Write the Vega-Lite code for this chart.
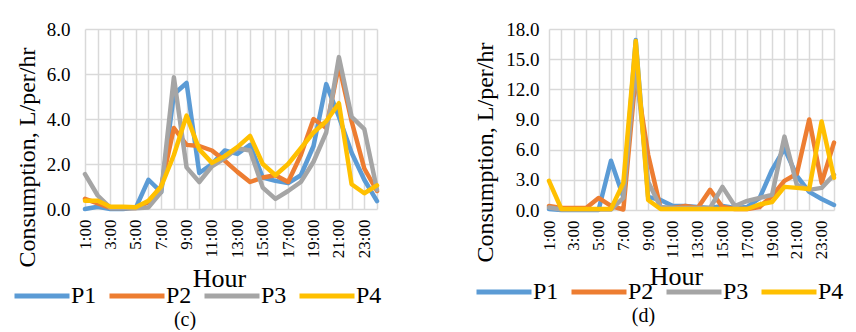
{
  "$schema": "https://vega.github.io/schema/vega-lite/v6.json",
  "padding": {"left": 8, "top": 20, "right": 0, "bottom": 0},
  "background": "white",
  "config": {
    "font": "Liberation Serif",
    "view": {"stroke": null},
    "axis": {"labelFont": "Liberation Serif", "titleFont": "Liberation Serif", "labelColor": "#000000", "titleColor": "#000000", "gridColor": "#d9d9d9", "gridWidth": 1.5, "ticks": false, "domain": false, "titleFontWeight": "normal"},
    "legend": {"labelFont": "Liberation Serif", "labelColor": "#000000"},
    "title": {"font": "Liberation Serif", "color": "#000000", "fontWeight": "normal"}
  },
  "datasets": {
    "c": [
      {"Hour": "1:00", "P1": 0.0, "P2": 0.45, "P3": 1.55, "P4": 0.37},
      {"Hour": "2:00", "P1": 0.1, "P2": 0.25, "P3": 0.6, "P4": 0.37},
      {"Hour": "3:00", "P1": 0.0, "P2": 0.05, "P3": 0.05, "P4": 0.1},
      {"Hour": "4:00", "P1": 0.0, "P2": 0.05, "P3": 0.05, "P4": 0.1},
      {"Hour": "5:00", "P1": 0.05, "P2": 0.05, "P3": 0.03, "P4": 0.08},
      {"Hour": "6:00", "P1": 1.3, "P2": 0.3, "P3": 0.07, "P4": 0.37},
      {"Hour": "7:00", "P1": 0.75, "P2": 1.0, "P3": 0.75, "P4": 1.0},
      {"Hour": "8:00", "P1": 5.1, "P2": 3.6, "P3": 5.85, "P4": 2.4},
      {"Hour": "9:00", "P1": 5.6, "P2": 2.85, "P3": 1.85, "P4": 4.15},
      {"Hour": "10:00", "P1": 1.6, "P2": 2.8, "P3": 1.2, "P4": 2.65},
      {"Hour": "11:00", "P1": 2.0, "P2": 2.6, "P3": 1.9, "P4": 2.05},
      {"Hour": "12:00", "P1": 2.6, "P2": 2.15, "P3": 2.25, "P4": 2.35},
      {"Hour": "13:00", "P1": 2.45, "P2": 1.65, "P3": 2.7, "P4": 2.75},
      {"Hour": "14:00", "P1": 2.85, "P2": 1.2, "P3": 2.6, "P4": 3.25},
      {"Hour": "15:00", "P1": 1.4, "P2": 1.4, "P3": 0.95, "P4": 2.0},
      {"Hour": "16:00", "P1": 1.25, "P2": 1.5, "P3": 0.45, "P4": 1.5},
      {"Hour": "17:00", "P1": 1.15, "P2": 1.2, "P3": 0.8, "P4": 2.0},
      {"Hour": "18:00", "P1": 1.5, "P2": 2.4, "P3": 1.2, "P4": 2.7},
      {"Hour": "19:00", "P1": 2.8, "P2": 4.0, "P3": 2.1, "P4": 3.4},
      {"Hour": "20:00", "P1": 5.55, "P2": 3.6, "P3": 3.4, "P4": 3.9},
      {"Hour": "21:00", "P1": 4.1, "P2": 6.4, "P3": 6.75, "P4": 4.7},
      {"Hour": "22:00", "P1": 2.5, "P2": 3.9, "P3": 4.1, "P4": 1.1},
      {"Hour": "23:00", "P1": 1.3, "P2": 1.8, "P3": 3.55, "P4": 0.7},
      {"Hour": "24:00", "P1": 0.35, "P2": 0.8, "P3": 0.85, "P4": 1.05}
    ],
    "d": [
      {"Hour": "1:00", "P1": 0.1, "P2": 0.4, "P3": 0.25, "P4": 2.9},
      {"Hour": "2:00", "P1": 0.0, "P2": 0.2, "P3": 0.05, "P4": 0.1},
      {"Hour": "3:00", "P1": 0.0, "P2": 0.2, "P3": 0.05, "P4": 0.1},
      {"Hour": "4:00", "P1": 0.0, "P2": 0.2, "P3": 0.05, "P4": 0.1},
      {"Hour": "5:00", "P1": 0.0, "P2": 1.2, "P3": 0.05, "P4": 0.1},
      {"Hour": "6:00", "P1": 4.9, "P2": 0.4, "P3": 0.05, "P4": 0.1},
      {"Hour": "7:00", "P1": 1.3, "P2": 0.05, "P3": 1.2, "P4": 2.7},
      {"Hour": "8:00", "P1": 16.9, "P2": 13.5, "P3": 14.5, "P4": 16.8},
      {"Hour": "9:00", "P1": 1.3, "P2": 5.5, "P3": 2.8, "P4": 1.0},
      {"Hour": "10:00", "P1": 1.0, "P2": 0.2, "P3": 0.3, "P4": 0.1},
      {"Hour": "11:00", "P1": 0.4, "P2": 0.2, "P3": 0.2, "P4": 0.1},
      {"Hour": "12:00", "P1": 0.4, "P2": 0.4, "P3": 0.2, "P4": 0.1},
      {"Hour": "13:00", "P1": 0.3, "P2": 0.2, "P3": 0.2, "P4": 0.1},
      {"Hour": "14:00", "P1": 0.2, "P2": 2.0, "P3": 0.2, "P4": 0.1},
      {"Hour": "15:00", "P1": 0.4, "P2": 0.3, "P3": 2.3, "P4": 0.1},
      {"Hour": "16:00", "P1": 0.2, "P2": 0.1, "P3": 0.4, "P4": 0.1},
      {"Hour": "17:00", "P1": 0.3, "P2": 0.1, "P3": 0.9, "P4": 0.1},
      {"Hour": "18:00", "P1": 1.2, "P2": 0.3, "P3": 1.2, "P4": 0.55},
      {"Hour": "19:00", "P1": 4.0, "P2": 1.4, "P3": 1.5, "P4": 0.8},
      {"Hour": "20:00", "P1": 6.1, "P2": 2.9, "P3": 7.3, "P4": 2.3},
      {"Hour": "21:00", "P1": 3.4, "P2": 3.6, "P3": 2.5, "P4": 2.2},
      {"Hour": "22:00", "P1": 1.8, "P2": 9.0, "P3": 2.0, "P4": 2.1},
      {"Hour": "23:00", "P1": 1.1, "P2": 2.7, "P3": 2.2, "P4": 8.8},
      {"Hour": "24:00", "P1": 0.5, "P2": 6.7, "P3": 3.5, "P4": 3.2}
    ]
  },
  "resolve": {"scale": {"x": "independent", "y": "independent", "color": "independent"}, "legend": {"color": "independent"}},
  "spacing": 85,
  "hconcat": [
    {
      "width": 292,
      "height": 180,
      "data": {"name": "c"},
      "transform": [{"fold": ["P1", "P2", "P3", "P4"], "as": ["Series", "Consumption"]}],
      "title": {"text": "(c)", "orient": "bottom", "fontSize": 20, "anchor": "middle", "frame": "group", "dx": -46, "offset": 2},
      "mark": {"type": "line", "strokeWidth": 4.5, "strokeJoin": "round", "strokeCap": "round"},
      "encoding": {
        "x": {
          "field": "Hour", "type": "nominal", "sort": null,
          "scale": {"type": "point", "padding": 0},
          "axis": {
            "title": "Hour", "titleFontSize": 26, "titleX": 134, "titleY": 77, "titleBaseline": "alphabetic",
            "labelAngle": -90, "labelFontSize": 17, "labelPadding": 10, "labelOverlap": false,
            "labelExpr": "parseInt(datum.value) % 2 == 1 ? datum.label : ''",
            "grid": true
          }
        },
        "y": {
          "field": "Consumption", "type": "quantitative",
          "scale": {"domain": [0, 8], "nice": false},
          "axis": {
            "title": "Consumption, L/per/hr", "titleFontSize": 24, "titlePadding": 7, "titleY": 128,
            "values": [0, 2, 4, 6, 8], "format": ".1f", "labelFontSize": 19, "labelPadding": 15
          }
        },
        "color": {
          "field": "Series", "type": "nominal",
          "scale": {"domain": ["P1", "P2", "P3", "P4"], "range": ["#5b9bd5", "#ed7d31", "#a5a5a5", "#ffc000"]},
          "legend": {
            "orient": "none", "legendX": -77, "legendY": 255, "direction": "horizontal", "title": null,
            "symbolType": "M-1,0H9", "symbolSize": 121, "symbolStrokeWidth": 5, "labelFontSize": 24,
            "labelOffset": 39, "columnPadding": 2
          }
        }
      }
    },
    {
      "width": 285,
      "height": 181,
      "data": {"name": "d"},
      "transform": [{"fold": ["P1", "P2", "P3", "P4"], "as": ["Series", "Consumption"]}],
      "title": {"text": "(d)", "orient": "bottom", "fontSize": 20, "anchor": "middle", "frame": "group", "dx": -48, "offset": 2},
      "mark": {"type": "line", "strokeWidth": 4.5, "strokeJoin": "round", "strokeCap": "round"},
      "encoding": {
        "x": {
          "field": "Hour", "type": "nominal", "sort": null,
          "scale": {"type": "point", "padding": 0},
          "axis": {
            "title": "Hour", "titleFontSize": 26, "titleX": 127, "titleY": 74, "titleBaseline": "alphabetic",
            "labelAngle": -90, "labelFontSize": 17, "labelPadding": 10, "labelOverlap": false,
            "labelExpr": "parseInt(datum.value) % 2 == 1 ? datum.label : ''",
            "grid": true
          }
        },
        "y": {
          "field": "Consumption", "type": "quantitative",
          "scale": {"domain": [0, 18], "nice": false},
          "axis": {
            "title": "Consumption, L/per/hr", "titleFontSize": 24, "titlePadding": 8, "titleY": 123,
            "values": [0, 3, 6, 9, 12, 15, 18], "format": ".1f", "labelFontSize": 19, "labelPadding": 10
          }
        },
        "color": {
          "field": "Series", "type": "nominal",
          "scale": {"domain": ["P1", "P2", "P3", "P4"], "range": ["#5b9bd5", "#ed7d31", "#a5a5a5", "#ffc000"]},
          "legend": {
            "orient": "none", "legendX": -79, "legendY": 251, "direction": "horizontal", "title": null,
            "symbolType": "M-1,0H9", "symbolSize": 121, "symbolStrokeWidth": 5, "labelFontSize": 24,
            "labelOffset": 39, "columnPadding": 2
          }
        }
      }
    }
  ]
}
